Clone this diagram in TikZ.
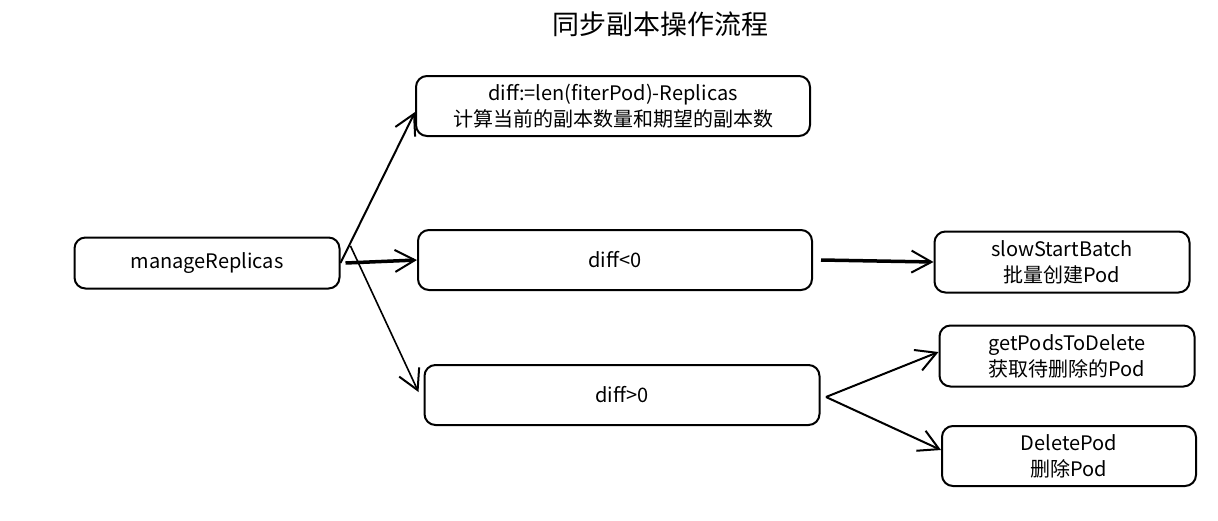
\documentclass[tikz,border=0pt]{standalone}
\usepackage{fontspec}
\setmainfont{Noto Sans CJK SC}
\usetikzlibrary{arrows.meta}

\tikzset{every picture/.style={line width=2pt}}
\tikzset{
  box/.style={draw, rounded corners=11pt, line width=2pt, inner sep=0pt, align=center,
    font=\fontsize{20}{26}\selectfont},
  arr/.style={-{Straight Barb[length=20pt,width=22pt,line width=2pt]}, line width=2pt},
  thickarr/.style={arr, line width=3.5pt}
}

\begin{document}
\begin{tikzpicture}[x=1pt,y=1pt,yscale=-1,xscale=1]
\useasboundingbox (0,0) rectangle (1218,520);

\node (title) at (660,24) {\fontsize{27}{30}\selectfont 同步副本操作流程};

\node [box, minimum width=265pt, minimum height=51pt] (mr) at (207,263) {manageReplicas};
\node [box, minimum width=394pt, minimum height=60pt] (calc) at (613,106) {diff:=len(fiterPod)-Replicas\\计算当前的副本数量和期望的副本数};
\node [box, minimum width=394pt, minimum height=60pt] (lt) at (615,260) {diff<0};
\node [box, minimum width=395pt, minimum height=60pt] (gt) at (622,395) {diff>0};
\node [box, minimum width=255pt, minimum height=61pt] (slow) at (1062,262) {slowStartBatch\\批量创建Pod};
\node [box, minimum width=255pt, minimum height=61pt] (getp) at (1067,356) {getPodsToDelete\\获取待删除的Pod};
\node [box, minimum width=254pt, minimum height=60pt] (del) at (1069,456) {DeletePod\\删除Pod};

\coordinate (fork) at (826,397);

\draw [arr] (mr.east) -- ([yshift=6pt]calc.west);
\draw [thickarr] ([xshift=5pt]mr.east) -- (lt.west);
\draw [arr, line width=1.6pt] ([xshift=10pt,yshift=-17pt]mr.east) -- ([xshift=-5pt,yshift=-3pt]gt.west);
\draw [thickarr] ([xshift=8pt]lt.east) -- (slow.west);
\draw [arr] (fork) -- ([yshift=-4pt]getp.west);
\draw [arr] (fork) -- ([yshift=-6pt]del.west);

\end{tikzpicture}
\end{document}
